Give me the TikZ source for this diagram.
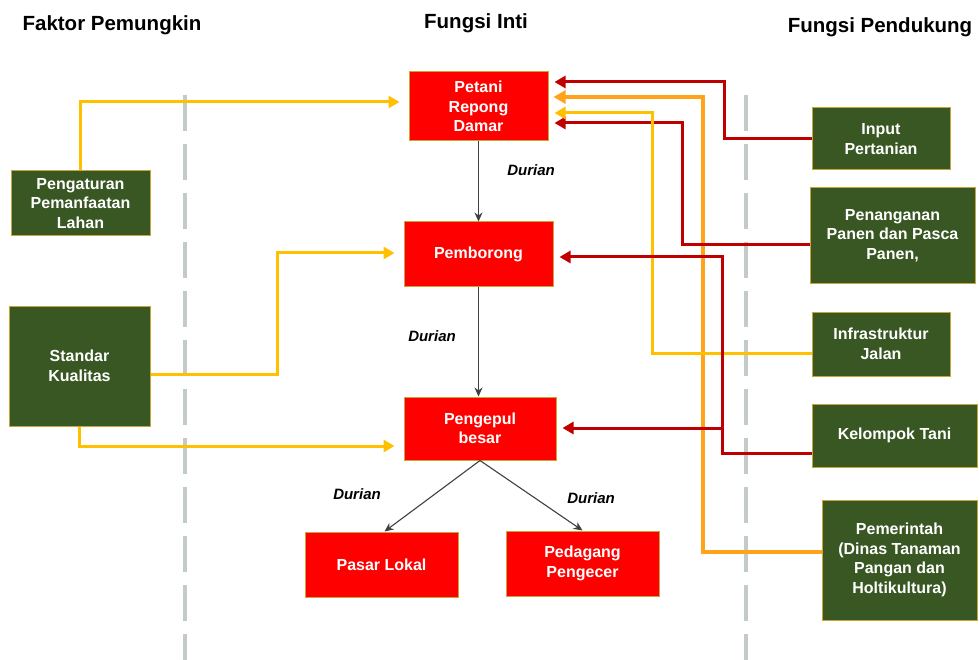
\documentclass[tikz,border=0pt]{standalone}
\usepackage{fontspec}
\setmainfont{Liberation Sans}
\usetikzlibrary{arrows.meta,positioning}

\definecolor{boxred}{HTML}{FF0000}
\definecolor{boxgreen}{HTML}{385723}
\definecolor{rim}{HTML}{C9A43A}
\definecolor{dkred}{HTML}{C00000}
\definecolor{ambar}{HTML}{FFA31A}
\definecolor{kuning}{HTML}{FFC000}
\definecolor{garis}{HTML}{C3CBC8}

\newcommand{\boxfont}{\fontsize{16}{19.5}\selectfont\bfseries}
\newcommand{\headfont}{\fontsize{20.5}{24}\selectfont\bfseries}

\begin{document}
\begin{tikzpicture}[x=1pt, y=-1pt,
  intibox/.style={draw=rim, fill=boxred, line width=1pt, text=white, font=\boxfont, align=center, inner sep=0pt},
  dukbox/.style={draw=rim, fill=boxgreen, line width=1pt, text=white, font=\boxfont, align=center, inner sep=0pt},
  judul/.style={font=\headfont, inner sep=0pt},
  lbl/.style={font=\fontsize{15}{18}\selectfont\bfseries\itshape, inner sep=0pt},
  alur/.style={draw=black!75, line width=1.1pt, -{Stealth[length=9pt,width=8pt]}},
  merah/.style={draw=dkred, line width=3pt, -{Triangle[length=11pt,width=12pt]}, shorten >=6pt},
  oranye/.style={draw=ambar, line width=4pt, -{Triangle[length=12pt,width=13pt]}, shorten >=5pt},
  kuningln/.style={draw=kuning, line width=3pt, -{Triangle[length=11pt,width=12pt]}, shorten >=6pt},
  batas/.style={draw=garis, line width=4pt, dash pattern=on 36pt off 13pt}]

  \useasboundingbox (0,0) rectangle (979,660);

  % pembatas kolom
  \draw[batas] (185,95) -- (185,660);
  \draw[batas] (746,95) -- (746,660);

  % judul kolom
  \node[judul] (hkiri) at (112,25) {Faktor Pemungkin};
  \node[judul] (htengah) at (476,23) {Fungsi Inti};
  \node[judul] (hkanan) at (880,27) {Fungsi Pendukung};

  % fungsi inti
  \node[intibox, minimum width=139pt, minimum height=69pt] (petani) at (478.5,106.5) {Petani\\Repong\\Damar};
  \node[intibox, minimum width=149pt, minimum height=64pt] (pemborong) at (478.5,254) {Pemborong};
  \node[intibox, minimum width=152pt, minimum height=63pt] (pengepul) at (480,428.5) {Pengepul\\besar};
  \node[intibox, minimum width=153pt, minimum height=65pt] (pasar) at (381.5,564.5) {Pasar Lokal};
  \node[intibox, minimum width=153pt, minimum height=65pt] (pedagang) at (582.5,563.5) {Pedagang\\Pengecer};

  % faktor pemungkin
  \node[dukbox, minimum width=139pt, minimum height=65pt] (pengaturan) at (80.5,203.5) {Pengaturan\\Pemanfaatan\\Lahan};
  \node[dukbox, minimum width=141pt, minimum height=120pt] (standar) at (79.5,366) {Standar\\Kualitas};

  % fungsi pendukung
  \node[dukbox, minimum width=138pt, minimum height=62pt] (input) at (881,139) {Input\\Pertanian};
  \node[dukbox, minimum width=165pt, minimum height=95pt] (penanganan) at (892.5,235.5) {Penanganan\\Panen dan Pasca\\Panen,};
  \node[dukbox, minimum width=138pt, minimum height=64pt] (infra) at (881,344) {Infrastruktur\\Jalan};
  \node[dukbox, minimum width=165pt, minimum height=63pt] (kelompok) at (894.5,435.5) {Kelompok Tani};
  \node[dukbox, minimum width=155pt, minimum height=120pt] (pemerintah) at (899.5,560) {Pemerintah\\(Dinas Tanaman\\Pangan dan\\Holtikultura)};

  % aliran durian
  \draw[alur] (petani.south) -- (pemborong.north);
  \draw[alur] (pemborong.south) -- (pemborong.south |- pengepul.north);
  \draw[alur] (pengepul.south) -- ([xshift=3pt]pasar.north);
  \draw[alur] (pengepul.south) -- (pedagang.north);
  \node[lbl] (d1) at (531,170) {Durian};
  \node[lbl] (d2) at (432,336) {Durian};
  \node[lbl] (d3) at (357,494) {Durian};
  \node[lbl] (d4) at (591,498) {Durian};

  % pendukung ke inti
  \coordinate (cabang) at (722,428);
  \draw[oranye] (pemerintah.west |- 0,552) -| (703,97) -- (petani.east |- 0,97);
  \draw[merah] (input.west) -| (724,82) -- (petani.east |- 0,82);
  \draw[merah] (penanganan.west |- 0,245) -| (682,123) -- (petani.east |- 0,123);
  \draw[kuningln] (infra.west |- 0,353) -| (652,113) -- (petani.east |- 0,113);
  \draw[merah] (kelompok.west |- 0,453) -| (722,257) -- (pemborong.east |- 0,257);
  \draw[merah] (cabang) -- (pengepul.east |- cabang);

  % pemungkin ke inti
  \draw[kuningln, shorten >=9pt] (pengaturan.north) |- (petani.west |- 0,102);
  \draw[kuningln, shorten >=9pt] (standar.east |- 0,374) -| (277,253) -- (pemborong.west |- 0,253);
  \draw[kuningln, shorten >=9pt] (standar.south) |- (pengepul.west |- 0,446);
\end{tikzpicture}
\end{document}
